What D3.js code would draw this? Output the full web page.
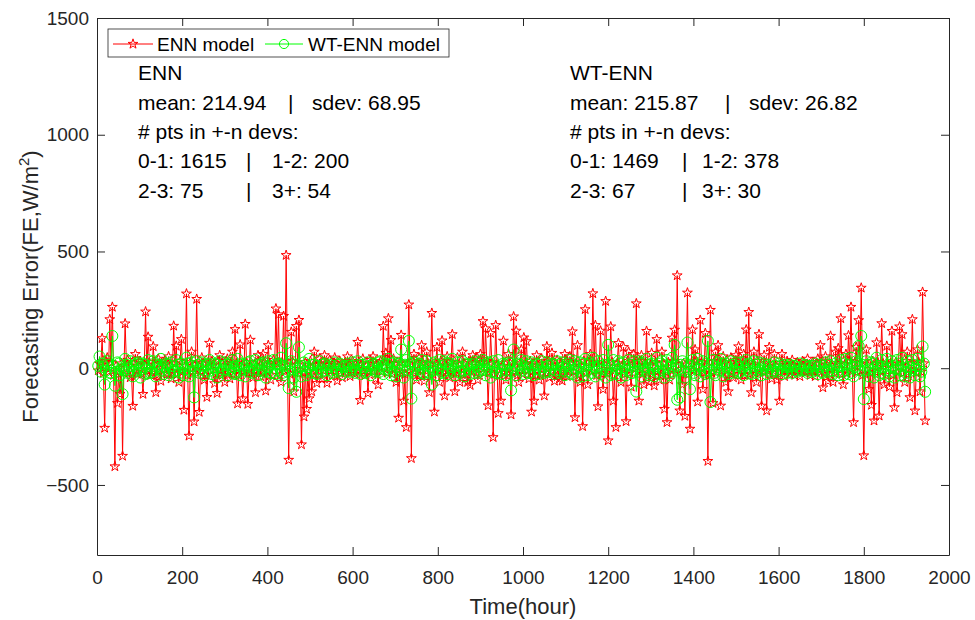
<!DOCTYPE html>
<html>
<head>
<meta charset="utf-8">
<script src="https://cdn.jsdelivr.net/npm/d3@7"></script>
<style>
  body { margin: 0; background: #fff; }
  svg { font-family: "Liberation Sans", Arial, sans-serif; }
  .axis path, .axis line { stroke: #262626; }
  .axis text { fill: #262626; font-size: 19px; }
</style>
</head>
<body>
<script>
/********************************************************/
// hourly sampling step of the series below (value i sits at hour (i+1)*step)
const hourStep = 3;

// ENN model forecasting error (W/m^2)
const ennErr = [
  -10, 20, 15, 128, -20, -256, 30, 45, -15, 209, 25, 262, -30, -421, 10, -150, -25, -111, 20, -376,
  -20, 191, 25, 35, 10, -40, -30, -162, 20, 60, -15, -25, 30, 30, -25, -111, 15, 242, -10, 134,
  25, -30, -20, 93, 15, -104, -30, 40, 20, -55, -10, 25, 30, -20, -25, 50, 10, -45, -15, 181,
  20, 95, -25, -60, 30, 124, -15, -179, 10, 319, -30, -290, 25, 70, -20, -229, 15, 296, -10, -188,
  -15, 45, 20, -50, -30, -124, 25, 108, -10, 30, 15, -65, -25, -107, 30, 55, -20, -30, 10, -60,
  30, 40, -20, -45, 15, 70, -25, 167, 20, -152, -30, 101, 10, -130, -15, 189, 25, -154, -20, 121,
  -25, -40, 15, -104, -10, 55, 30, -35, -20, 60, 25, -97, -15, 98, 20, -50, -30, 35, 10, 255,
  20, 230, -30, -60, 25, 223, -15, 484, 10, -393, -25, 155, 30, -100, -20, 180, 15, 206, -10, -327,
  -20, -208, 25, -175, -15, -130, 30, -100, -25, 70, 10, -64, -30, 40, 20, -45, -10, 55, 15, -64,
  15, 35, -10, -30, 20, 45, -15, -54, 10, 30, -20, -40, 15, 25, -10, 50, 20, -35, -15, 30,
  -15, -25, 20, 112, -10, -137, 15, 40, -20, -30, 10, -107, -15, 35, 20, 50, -10, -45, 15, -71,
  20, 30, -15, 180, 25, 65, -20, 213, 15, 120, -25, 40, 20, -60, -15, -213, 25, 142, -20, -140,
  -25, -253, 20, 272, -15, -386, 30, 60, -20, -50, 15, 45, -30, 98, 25, -55, -10, 70, 20, -104,
  15, 236, -25, -187, 20, 90, -10, -60, 30, 118, -20, -118, 10, 50, -30, -40, 25, 145, -15, -100,
  -20, 45, 15, -60, -25, 70, 20, -45, -10, -60, 30, -73, -15, 55, 25, 40, -20, -50, 10, 60,
  25, 201, -20, 170, 30, -160, -15, 150, 20, -296, -25, 184, 15, -193, -30, -140, 10, 117, -20, -50,
  -15, 60, 25, -199, -20, 221, 10, 160, -30, -60, 20, 80, -25, 131, 15, 115, -10, -45, 30, -187,
  20, -140, -30, 55, 15, -50, -25, 40, 10, -118, -20, 93, 30, -40, -15, 65, 25, -55, -10, 35,
  -25, -45, 15, -54, -20, 60, 30, -35, -10, 50, 25, 157, -15, -211, 20, 98, -30, -60, 10, -249,
  30, 252, -20, -70, 25, 60, -15, 320, 20, 184, -30, -164, 10, 160, -25, -90, 15, 287, -20, -310,
  -10, 178, 25, -140, -30, -253, 20, 107, -15, -60, 10, 90, -25, -228, 30, 70, -20, -80, 15, 60,
  20, 277, -15, -140, 30, 55, -25, -70, 10, 159, -20, -60, 15, 65, -30, -75, 25, 124, -10, -50,
  -30, 70, 20, -175, -15, -232, 25, -50, -10, 130, 30, 164, -20, 397, 15, -182, -25, -70, 20, -205,
  15, 323, -25, -260, 20, 165, -10, 80, 30, -144, -15, 206, 25, -90, -20, 150, 10, -398, -30, 249,
  -20, -150, 30, 70, -15, 98, 25, -161, -10, 50, 20, -60, -30, -100, 15, 45, -25, -40, 10, 55,
  25, 93, -10, -50, 20, 60, -30, 165, 15, 240, -25, -104, 10, 70, -20, -60, 30, 145, -15, -161,
  -15, 55, 20, -182, -10, 90, 15, -45, -20, 60, 10, -50, -15, -140, 20, 60, -10, -35, 15, 30,
  10, -25, -15, 35, 12, -30, -10, 25, 15, -35, -12, 30, 10, -20, -15, 40, 12, -30, -10, 25,
  -15, -35, 20, 40, -10, 98, 25, -83, -20, 50, 15, -55, -25, 138, 10, -60, -20, 70, 15, 85,
  20, 213, -25, -70, 15, 60, -20, 140, 30, 262, -10, -232, 25, 90, -15, 205, 20, 344, -30, -374,
  -25, 80, 15, -90, -20, -158, 30, -225, -15, 110, 25, -204, -10, 192, 20, -70, -30, 95, 15, -80,
  20, 159, -30, -168, 25, -104, -15, 178, 10, 145, -20, -60, 30, 70, -25, -125, 15, 209, -10, -182,
  -20, 80, 25, -100, -15, 326, 20, -225
];

// WT-ENN model forecasting error (W/m^2)
const wtennErr = [
  10, 50, -15, 20, 5, -70, -10, 30, 15, -20, -20, 138, 10, -75, -15, 25, 20, -30, -5, -111,
  -10, 40, 15, -20, -5, 30, 10, -35, -15, 15, 20, 25, -10, -40, 5, 20, 15, -25, -20, 35,
  10, -20, -15, 30, 20, -35, -5, 10, 15, 40, -10, -25, 5, 20, 15, -30, -20, 25, 10, -15,
  -10, 35, 15, -40, -20, 20, 10, -30, -5, 45, 20, -35, -15, 25, 10, -125, -10, 30, 15, -20,
  -5, 25, 10, -30, -15, 15, 20, 35, -10, -25, 5, 20, 15, -40, -20, 30, 10, -15, -5, 25,
  15, -30, -10, 20, 5, 35, -20, -25, 10, 40, -15, -30, 20, 15, -5, -35, 10, 25, -15, 30,
  10, -20, -5, 35, 15, -30, -10, 15, 20, 25, -15, -40, 5, 30, 10, -20, -20, 35, 15, -25,
  -10, 20, 15, 45, -20, -30, 10, 107, -15, -85, 20, 30, -5, -40, 15, -101, -10, 90, 5, -35,
  10, 25, -15, -30, 5, 40, -10, -20, 15, 15, -20, -25, 10, 30, -5, -15, 15, 20, -10, -30,
  5, 15, -10, -20, 10, 25, -5, -15, 15, 20, -10, -25, 5, 10, -15, 20, 10, -15, -5, 25,
  10, -20, -5, 30, 15, -25, -10, 15, 5, -20, -15, 25, 10, -30, -5, 20, 15, -15, -10, 25,
  -15, 30, 10, -25, -5, 20, 15, 40, -10, -30, 20, 25, -15, -35, 5, 20, 20, 80, -10, -40,
  15, 35, -10, 117, 20, -130, -15, 25, 10, -30, -5, 20, 15, 35, -20, -25, 10, 30, -15, -20,
  5, -70, -10, 25, 15, -30, -5, 35, 10, -20, -15, 30, 20, -25, -10, 20, 5, 40, -15, -30,
  10, 25, -15, -20, 5, 30, -10, -35, 20, 15, -5, -25, 15, 20, -20, 30, 10, -20, -10, 25,
  -5, 35, 15, -30, -10, 25, 20, -40, -15, 30, 10, -20, -20, 35, 5, -25, -10, 20, 15, -30,
  -10, 25, 20, -95, -15, 80, 10, -30, -5, 20, 15, 35, -10, -25, 5, 30, 15, -20, -20, 25,
  10, -30, -5, 20, 15, -25, -10, 30, 5, -20, -15, 25, 10, -15, -5, 20, 15, -25, -10, 30,
  15, -20, -10, 25, 5, -30, -15, 20, 10, 35, -20, -25, 15, 30, -5, -40, 10, 25, -15, -35,
  20, 40, -10, -30, 15, 25, -20, 45, 5, -35, -15, 30, 10, -25, -5, 35, 15, -40, -10, 100,
  15, -30, -20, 35, 10, -25, -5, 30, 20, -40, -15, 25, 5, -30, -10, 35, 15, -20, -20, 30,
  10, -100, -15, 30, 20, -35, -10, 25, 5, 40, -20, -30, 15, 20, -5, -35, 10, 45, -15, -25,
  20, 30, -10, -40, 15, 35, -20, -30, 5, 45, -15, 100, 10, -135, -5, -125, 15, 30, -10, -40,
  20, 110, -15, -90, 10, 35, -20, -30, 15, 40, -5, -35, 10, 30, -15, -25, 20, 117, -10, -145,
  15, 35, -20, -30, 5, 25, -10, 40, 20, -35, -15, 20, 10, -25, -5, 30, 15, -20, -10, 25,
  10, -20, -15, 25, 5, -30, -10, 35, 15, 20, -20, -25, 10, 30, -5, -20, 15, 25, -10, -30,
  -5, 20, 10, -25, -10, 15, 5, -20, -10, 25, 10, -15, -5, 20, 10, -25, -10, 15, 5, -20,
  5, 15, -5, -20, 10, 10, -10, -15, 5, 20, -5, -10, 10, 15, -10, -20, 5, 10, -5, -15,
  10, 20, -10, -25, 5, 15, -15, -20, 10, 25, -5, -15, 15, 30, -10, -25, 5, 20, -15, -30,
  10, 35, -15, -30, 20, 40, -10, -25, 15, 45, -20, -35, 5, 30, 20, 95, -10, 138, 15, -132,
  -10, 30, 15, -35, -5, 25, 20, -40, -15, 45, 10, -30, -20, 35, 5, -25, -10, 40, 15, -35,
  -15, 30, 10, -40, -5, 35, 20, -30, -10, 45, 15, -35, -20, 30, 5, -40, -10, 35, 15, -30,
  -5, 40, 10, -35, -15, 93, 20, -101
];

const seriesNames = ["ENN model", "WT-ENN model"];
const seriesColors = ["#ff0000", "#00ff00"];

// statistics text blocks: [title, mean, sdev, 0-1, 1-2, 2-3, 3+]
const ennStats = ["ENN", "214.94", "68.95", "1615", "200", "75", "54"];
const wtennStats = ["WT-ENN", "215.87", "26.82", "1469", "378", "67", "30"];

const xTicks = [0, 200, 400, 600, 800, 1000, 1200, 1400, 1600, 1800, 2000];
const yTicks = [-500, 0, 500, 1000, 1500];

/********************************************************/
const svgWidth = 975;
const svgHeight = 620;

const chartMargin = { top: 18, right: 26, bottom: 65, left: 97 };
const chartWidth = svgWidth - chartMargin.left - chartMargin.right;
const chartHeight = svgHeight - chartMargin.top - chartMargin.bottom;

const svg = d3
  .select("body")
  .append("svg")
  .attr("width", svgWidth)
  .attr("height", svgHeight);

const chartGroup = svg
  .append("g")
  .attr("transform", `translate(${chartMargin.left}, ${chartMargin.top})`);

/************** scales ************/
const xScale = d3.scaleLinear().domain([0, 2000]).range([0, chartWidth]);
const yScale = d3.scaleLinear().domain([-800, 1500]).range([chartHeight, 0]);

const tickFmt = d3.format("d");

/************** axes (MATLAB style: ticks inside, box on) ************/
chartGroup
  .append("g")
  .classed("axis", true)
  .attr("transform", `translate(0, ${chartHeight})`)
  .call(d3.axisBottom(xScale).tickValues(xTicks).tickFormat(tickFmt).tickSizeInner(-8).tickSizeOuter(0).tickPadding(16));

chartGroup
  .append("g")
  .classed("axis", true)
  .call(d3.axisLeft(yScale).tickValues(yTicks).tickFormat(tickFmt).tickSizeInner(-8).tickSizeOuter(0).tickPadding(8));

chartGroup
  .append("g")
  .classed("axis", true)
  .call(d3.axisTop(xScale).tickValues(xTicks).tickSizeInner(-8).tickSizeOuter(0).tickFormat(""));

chartGroup
  .append("g")
  .classed("axis", true)
  .attr("transform", `translate(${chartWidth}, 0)`)
  .call(d3.axisRight(yScale).tickValues(yTicks).tickSizeInner(-8).tickSizeOuter(0).tickFormat(""));

chartGroup.selectAll(".axis text").attr("font-family", null);

/************** series ************/
const ennData = ennErr.map((v, i) => ({ hour: (i + 1) * hourStep, value: v }));
const wtennData = wtennErr.map((v, i) => ({ hour: (i + 1) * hourStep, value: v }));

const line = d3
  .line()
  .x((d) => xScale(d.hour))
  .y((d) => yScale(d.value));

const starSymbol = d3.symbol().type(d3.symbolStar).size(30);
const circleSymbol = d3.symbol().type(d3.symbolCircle).size(95);

function drawSeries(data, color, symbol, cls) {
  chartGroup
    .append("path")
    .attr("d", line(data))
    .attr("fill", "none")
    .attr("stroke", color)
    .attr("stroke-width", 1);

  chartGroup
    .selectAll("." + cls)
    .data(data)
    .enter()
    .append("path")
    .classed(cls, true)
    .attr("d", symbol)
    .attr("transform", (d) => `translate(${xScale(d.hour)}, ${yScale(d.value)})`)
    .attr("fill", "none")
    .attr("stroke", color)
    .attr("stroke-width", 1);
}

drawSeries(ennData, seriesColors[0], starSymbol, "ennmark");
drawSeries(wtennData, seriesColors[1], circleSymbol, "wtennmark");

/************** legend ************/
const legend = svg.append("g").attr("transform", "translate(108, 29)");

legend
  .append("rect")
  .attr("width", 341)
  .attr("height", 28)
  .attr("fill", "#fff")
  .attr("stroke", "#262626")
  .attr("stroke-width", 0.8);

const legendSymbols = [
  d3.symbol().type(d3.symbolStar).size(30),
  d3.symbol().type(d3.symbolCircle).size(66),
];

const legendItems = [
  { name: seriesNames[0], color: seriesColors[0], symbol: legendSymbols[0], x0: 5, x1: 45, tx: 49 },
  { name: seriesNames[1], color: seriesColors[1], symbol: legendSymbols[1], x0: 157, x1: 195, tx: 200 },
];

legendItems.forEach((it) => {
  legend
    .append("line")
    .attr("x1", it.x0)
    .attr("x2", it.x1)
    .attr("y1", 15)
    .attr("y2", 15)
    .attr("stroke", it.color);
  legend
    .append("path")
    .attr("d", it.symbol())
    .attr("transform", `translate(${(it.x0 + it.x1) / 2}, 15)`)
    .attr("fill", "none")
    .attr("stroke", it.color);
  legend
    .append("text")
    .text(it.name)
    .attr("x", it.tx)
    .attr("y", 22)
    .attr("font-size", "19px")
    .attr("fill", "#000");
});

/************** statistics text ************/
function drawStats(stats, x0, barDx, sdevDx, barDx2, colDx2) {
  const g = svg.append("g").attr("font-size", "21px").attr("fill", "#000");
  const base = [80, 110, 139, 168, 198];
  g.append("text").attr("x", x0).attr("y", base[0]).text(stats[0]);
  g.append("text").attr("x", x0).attr("y", base[1]).text("mean: " + stats[1]);
  g.append("text").attr("x", x0 + barDx).attr("y", base[1]).text("|");
  g.append("text").attr("x", x0 + sdevDx).attr("y", base[1]).text("sdev: " + stats[2]);
  g.append("text").attr("x", x0).attr("y", base[2]).text("# pts in +-n devs:");
  g.append("text").attr("x", x0).attr("y", base[3]).text("0-1: " + stats[3]);
  g.append("text").attr("x", x0 + barDx2).attr("y", base[3]).text("|");
  g.append("text").attr("x", x0 + colDx2).attr("y", base[3]).text("1-2: " + stats[4]);
  g.append("text").attr("x", x0).attr("y", base[4]).text("2-3: " + stats[5]);
  g.append("text").attr("x", x0 + barDx2).attr("y", base[4]).text("|");
  g.append("text").attr("x", x0 + colDx2).attr("y", base[4]).text("3+: " + stats[6]);
}

drawStats(ennStats, 138, 150, 174, 108, 134);
drawStats(wtennStats, 570, 155, 179, 112, 132);

/************** axis labels ************/
svg
  .append("text")
  .text("Time(hour)")
  .attr("x", chartMargin.left + chartWidth / 2)
  .attr("y", 614)
  .attr("text-anchor", "middle")
  .attr("font-size", "22px")
  .attr("fill", "#262626");

const yLabel = svg
  .append("text")
  .attr("transform", `translate(38, ${chartMargin.top + chartHeight / 2}) rotate(-90)`)
  .attr("text-anchor", "middle")
  .attr("font-size", "22px")
  .attr("fill", "#262626");
yLabel.append("tspan").text("Forecasting Error(FE,W/m");
yLabel.append("tspan").text("2").attr("font-size", "15px").attr("dy", "-9");
yLabel.append("tspan").text(")").attr("dy", "9");
</script>
</body>
</html>
